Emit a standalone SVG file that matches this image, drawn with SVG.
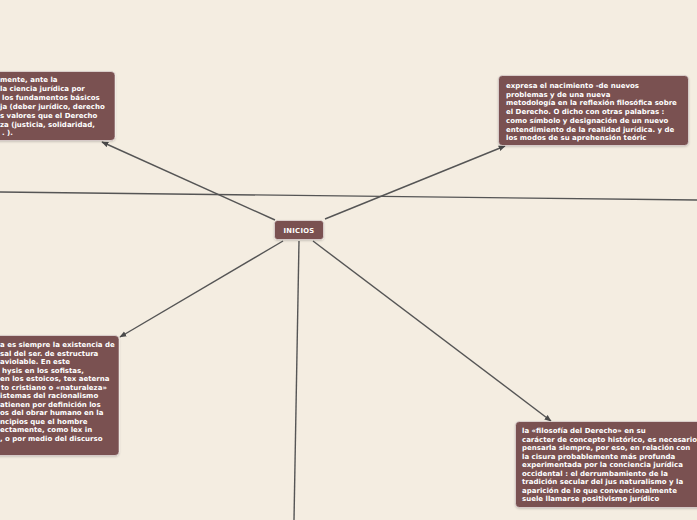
<svg xmlns="http://www.w3.org/2000/svg" width="697" height="520" viewBox="0 0 697 520">
<defs>
<marker id="arr" viewBox="0 0 10 10" refX="9" refY="5" markerWidth="7" markerHeight="7" markerUnits="userSpaceOnUse" orient="auto">
<path d="M0,1 L10,5 L0,9 z" fill="#4a4a4a"/>
</marker>
<filter id="sh" x="-10%" y="-10%" width="120%" height="130%">
<feDropShadow dx="0" dy="1" stdDeviation="1" flood-color="#000" flood-opacity="0.2"/>
</filter>
</defs>
<style>
.box{fill:#7a5151;stroke:#ffffff;stroke-opacity:0.5;stroke-width:1;filter:url(#sh)}
.t{font-family:"DejaVu Sans",Verdana,sans-serif;font-weight:bold;font-size:7px;fill:#ffffff}
.c{stroke:#555555;stroke-width:1.4;fill:none}
</style>
<rect width="697" height="520" fill="#f4ede1"/>
<g id="connectors">
<line class="c" x1="0" y1="192" x2="697" y2="200"/>
<line class="c" x1="275" y1="220" x2="102" y2="142" marker-end="url(#arr)"/>
<line class="c" x1="325" y1="219" x2="505" y2="146" marker-end="url(#arr)"/>
<line class="c" x1="283" y1="241" x2="120" y2="337" marker-end="url(#arr)"/>
<line class="c" x1="313" y1="241" x2="551" y2="421" marker-end="url(#arr)"/>
<line class="c" x1="299" y1="241" x2="294" y2="520"/>
</g>
<g id="n-center">
<rect class="box" x="274.5" y="220.5" width="49" height="19" rx="3"/>
<text class="t" x="299" y="232.5" text-anchor="middle" style="font-size:6.8px;letter-spacing:0.3px">INICIOS</text>
</g>
<g id="n-topleft">
<rect class="box" x="-60" y="71.5" width="175" height="69" rx="4"/>
<text class="t"><tspan x="0" y="82">mente, ante la</tspan><tspan x="0" y="91">la ciencia jurídica por</tspan><tspan x="2" y="100">los fundamentos básicos</tspan><tspan x="0" y="109">ja (deber jurídico, derecho</tspan><tspan x="0" y="118">s valores que el Derecho</tspan><tspan x="0" y="127">za (justicia, solidaridad,</tspan><tspan x="2" y="135">. ).</tspan></text>
</g>
<g id="n-topright">
<rect class="box" x="498.5" y="75.5" width="190" height="70" rx="4"/>
<text class="t"><tspan x="506" y="88">expresa el nacimiento -de nuevos</tspan><tspan x="506" y="96.7">problemas y de una nueva</tspan><tspan x="506" y="105.4">metodología en la reflexión filosófica sobre</tspan><tspan x="506" y="114.1">el Derecho. O dicho con otras palabras :</tspan><tspan x="506" y="122.8">como símbolo y designación de un nuevo</tspan><tspan x="506" y="131.5">entendimiento de la realidad jurídica. y de</tspan><tspan x="506" y="140.2">los modos de su aprehensión teóric</tspan></text>
</g>
<g id="n-bottomleft">
<rect class="box" x="-60" y="335.5" width="179" height="120" rx="4"/>
<text class="t"><tspan x="0" y="347">a es siempre la existencia de</tspan><tspan x="0" y="355.5">sal del ser. de estructura</tspan><tspan x="0" y="364">aviolable. En este</tspan><tspan x="2" y="372.5">hysis en los sofistas,</tspan><tspan x="0" y="381">en los estoicos, tex aeterna</tspan><tspan x="1" y="389.5">to cristiano o «naturaleza»</tspan><tspan x="0" y="398">istemas del racionalismo</tspan><tspan x="0" y="406.5">atienen por definición los</tspan><tspan x="0" y="415">os del obrar humano en la</tspan><tspan x="0" y="423.5">ncipios que el hombre</tspan><tspan x="0" y="432">ectamente, como lex in</tspan><tspan x="0" y="440.5">, o por medio del discurso</tspan></text>
</g>
<g id="n-bottomright">
<rect class="box" x="515.5" y="421.5" width="200" height="86" rx="4"/>
<text class="t"><tspan x="522" y="433">la «filosofía del Derecho» en su</tspan><tspan x="522" y="441.5">carácter de concepto histórico, es necesario</tspan><tspan x="522" y="450">pensarla siempre, por eso, en relación con</tspan><tspan x="522" y="458.5">la cisura probablemente más profunda</tspan><tspan x="522" y="467">experimentada  por la conciencia jurídica</tspan><tspan x="522" y="475.5">occidental : el derrumbamiento de la</tspan><tspan x="522" y="484">tradición secular del jus naturalismo y la</tspan><tspan x="522" y="492.5">aparición de lo que convencionalmente</tspan><tspan x="522" y="501">suele llamarse positivismo jurídico</tspan></text>
</g>
</svg>
